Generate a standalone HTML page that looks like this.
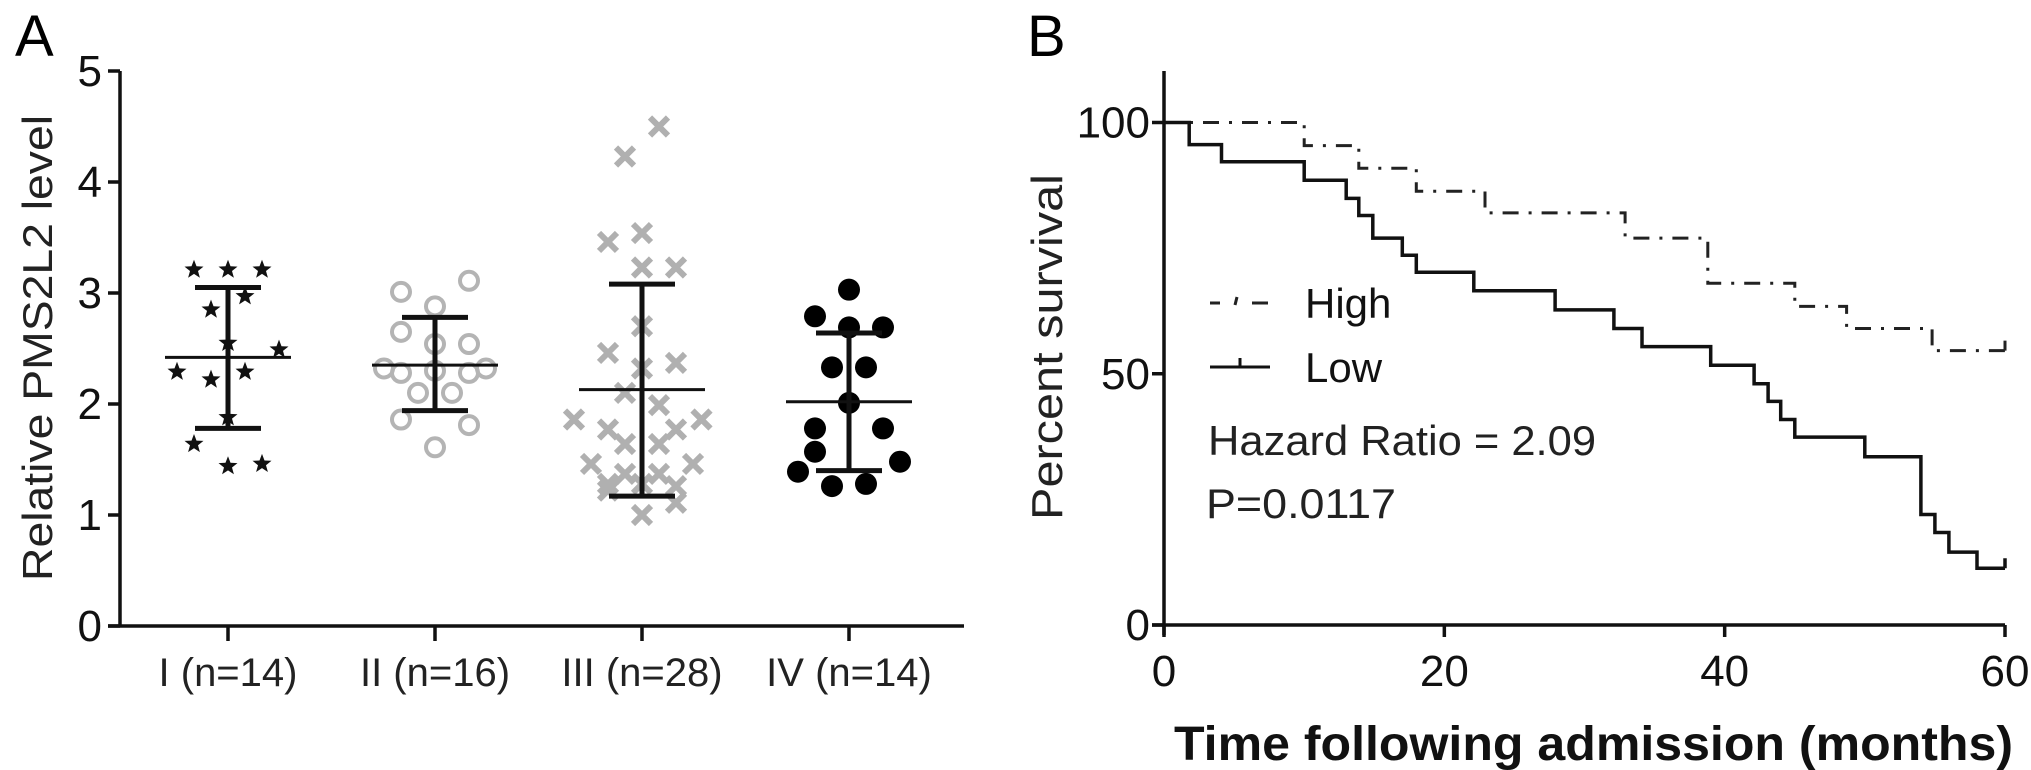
<!DOCTYPE html>
<html><head><meta charset="utf-8"><style>
html,body{margin:0;padding:0;background:#fff;}
svg{display:block;font-family:"Liberation Sans",sans-serif;}
</style></head><body>
<svg id="fig" width="2031" height="770" viewBox="0 0 2031 770" xmlns="http://www.w3.org/2000/svg">
<text x="15" y="56" font-size="58">A</text>
<text x="1027" y="56" font-size="58">B</text>
<g id="pa"></g>
<g id="pb"></g>
</svg>
<script>
// ---------- Panel A data ----------
const groupLabels = ["I (n=14)", "II (n=16)", "III (n=28)", "IV (n=14)"];
const g1Values = [3.21,3.21,3.21,2.85,2.97,2.55,2.49,2.29,2.22,2.29,1.88,1.64,1.44,1.46];
const g1Jitter = [-2,0,2,-1,1,0,3,-3,-1,1,0,-2,0,2];
const g2Values = [3.01,3.11,2.88,2.65,2.54,2.54,2.32,2.28,2.28,2.32,2.10,2.10,1.86,1.81,1.61,2.30];
const g2Jitter = [-2,2,0,-2,2,0,-3,-2,2,3,-1,1,-2,2,0,0];
const g3Values = [4.5,4.23,3.46,3.54,3.23,3.23,2.70,2.46,2.37,2.32,2.10,1.99,1.86,1.77,1.77,1.86,1.64,1.64,1.46,1.37,1.37,1.46,1.28,1.28,1.26,1.11,1.0,1.22];
const g3Jitter = [1,-1,-2,0,0,2,0,-2,2,0,-1,1,-4,-2,2,3.5,-1,1,-3,-1,1,3,-2,0,2,2,0,-2];
const g4Values = [3.03,2.79,2.69,2.69,2.33,2.33,2.01,1.78,1.78,1.57,1.39,1.48,1.26,1.28];
const g4Jitter = [0,-2,2,0,-1,1,0,-2,2,-2,-3,3,-1,1];
const groupMeans = [2.42,2.35,2.13,2.02];
const groupSDHigh = [3.05,2.78,3.08,2.64];
const groupSDLow = [1.78,1.94,1.17,1.40];
const yTicksA = [0,1,2,3,4,5];

// ---------- Panel B data ----------
const xTicksB = [0,20,40,60];
const yTicksB = [0,50,100];
const highTimes = [0,10,13.9,18,22.9,32.9,38.8,45,48.7,54.8,60];
const highSurv  = [100,95.4,90.9,86.3,82,77,68,63.4,59,54.6,54.6];
const lowTimes = [0,1.8,4.1,10,13,13.9,14.9,17,18,22.1,27.9,32.1,34.1,39,42.1,43.1,44,45,50,54,55,56,58,60];
const lowSurv  = [100,95.6,92.2,88.5,84.9,81.5,77,73.6,70.2,66.5,62.7,59,55.4,51.7,48,44.5,40.9,37.4,33.5,22,18.4,14.5,11.3,11.3];

const NS = "http://www.w3.org/2000/svg";
function mk(parent, tag, attrs, text){
  const e = document.createElementNS(NS, tag);
  for (const k in attrs) e.setAttribute(k, attrs[k]);
  if (text !== undefined) e.textContent = text;
  parent.appendChild(e);
  return e;
}

// ----- Panel A -----
const pa = document.getElementById('pa');
const ax0 = 120, ay0 = 626, ayTop = 71, axEnd = 964;
const yA = v => ay0 - (ay0 - ayTop) * v / 5;
const xA = i => 228 + i * 207;
const jitterPx = 17;

let el = mk(pa, 'line', {x1:ax0, y1:ayTop, x2:ax0, y2:ay0+1.5, stroke:'#111', 'stroke-width':3.5});


el = mk(pa, 'line', {x1:ax0-12, y1:ay0, x2:axEnd, y2:ay0, stroke:'#111', 'stroke-width':3.5});


yTicksA.forEach(t => {
  const y = yA(t);
  const tk = mk(pa, 'line', {x1:ax0-12, y1:y, x2:ax0, y2:y, stroke:'#111', 'stroke-width':3.5});
  
  
  const lb = mk(pa, 'text', {x:ax0-18, y:y+15, 'font-size':44, 'text-anchor':'end', fill:'#111'}, String(t));
  
  
});
el = mk(pa, 'text', {x:0, y:0, 'font-size':42, 'text-anchor':'middle', fill:'#222', transform:'translate(52,348) rotate(-90)', textLength:466, lengthAdjust:'spacingAndGlyphs'}, 'Relative PMS2L2 level');



groupLabels.forEach((g, i) => {
  const x = xA(i);
  const tk = mk(pa, 'line', {x1:x, y1:ay0, x2:x, y2:ay0+15, stroke:'#111', 'stroke-width':3.5});
  
  
  const lb = mk(pa, 'text', {x:x, y:686, 'font-size':40, 'text-anchor':'middle', fill:'#222'}, g);
  
  
});

function star(cx, cy, r){
  let d = '';
  for (let k = 0; k < 10; k++){
    const rr = k % 2 ? r * 0.42 : r;
    const a = -Math.PI/2 + k * Math.PI/5;
    d += (k ? 'L' : 'M') + (cx + rr*Math.cos(a)).toFixed(1) + ',' + (cy + rr*Math.sin(a)).toFixed(1);
  }
  return d + 'Z';
}
const groups = [[g1Values,g1Jitter],[g2Values,g2Jitter],[g3Values,g3Jitter],[g4Values,g4Jitter]];
groups.forEach((gd, gi) => {
  const vals = gd[0], jit = gd[1];
  const g = mk(pa, 'g', {});
  
  
  vals.forEach((v, k) => {
    const cx = xA(gi) + jit[k] * jitterPx, cy = yA(v);
    let m;
    if (gi === 0) m = mk(g, 'path', {d: star(cx, cy, 10), fill:'#111'});
    else if (gi === 1) m = mk(g, 'circle', {cx:cx, cy:cy, r:9, fill:'none', stroke:'#b4b4b4', 'stroke-width':4});
    else if (gi === 2) m = mk(g, 'path', {d:`M${cx-9},${cy-9}L${cx+9},${cy+9}M${cx+9},${cy-9}L${cx-9},${cy+9}`, stroke:'#b0b0b0', 'stroke-width':6});
    else m = mk(g, 'circle', {cx:cx, cy:cy, r:11, fill:'#000'});
    
    
  });
  const x = xA(gi);
  const mean = mk(pa, 'line', {x1:x-63, y1:yA(groupMeans[gi]), x2:x+63, y2:yA(groupMeans[gi]), stroke:'#111', 'stroke-width':3});
  
  
  const eb = mk(pa, 'path', {d:`M${x},${yA(groupSDHigh[gi])}V${yA(groupSDLow[gi])}M${x-33},${yA(groupSDHigh[gi])}H${x+33}M${x-33},${yA(groupSDLow[gi])}H${x+33}`, stroke:'#111', 'stroke-width':5, fill:'none'});
  
  
});

// ----- Panel B -----
const pb = document.getElementById('pb');
const bx0 = 1164, bx1 = 2005, by0 = 625, by100 = 122.5, byTop = 71;
const xB = t => bx0 + (bx1 - bx0) * t / 60;
const yB = s => by0 - (by0 - by100) * s / 100;

el = mk(pb, 'line', {x1:bx0, y1:byTop, x2:bx0, y2:by0+10, stroke:'#111', 'stroke-width':3.5});


el = mk(pb, 'line', {x1:bx0-12, y1:by0, x2:bx1, y2:by0, stroke:'#111', 'stroke-width':3.5});


yTicksB.forEach(t => {
  const y = yB(t);
  const tk = mk(pb, 'line', {x1:bx0-12, y1:y, x2:bx0, y2:y, stroke:'#111', 'stroke-width':3.5});
  
  
  const lb = mk(pb, 'text', {x:bx0-14, y:y+15, 'font-size':44, 'text-anchor':'end', fill:'#111'}, String(t));
  
  
});
xTicksB.forEach(t => {
  const x = xB(t);
  const tk = mk(pb, 'line', {x1:x, y1:by0, x2:x, y2:by0+12, stroke:'#111', 'stroke-width':3.5});
  
  
  const lb = mk(pb, 'text', {x:x, y:686, 'font-size':44, 'text-anchor':'middle', fill:'#111'}, String(t));
  
  
});
el = mk(pb, 'text', {x:0, y:0, 'font-size':44, 'text-anchor':'middle', fill:'#222', transform:'translate(1062,347) rotate(-90)', textLength:346, lengthAdjust:'spacingAndGlyphs'}, 'Percent survival');


el = mk(pb, 'text', {x:1174, y:760, 'font-size':48, 'font-weight':'bold', fill:'#111', textLength:839, lengthAdjust:'spacingAndGlyphs'}, 'Time following admission (months)');



function stepPath(ts, ss){
  let d = `M${xB(ts[0])},${yB(ss[0])}`;
  for (let i = 1; i < ts.length; i++){
    d += `H${xB(ts[i]).toFixed(1)}V${yB(ss[i]).toFixed(1)}`;
  }
  const last = ts.length - 1;
  d += `M${xB(ts[last])},${yB(ss[last])}v-10`;
  return d;
}
el = mk(pb, 'path', {d: stepPath(highTimes, highSurv), fill:'none', stroke:'#222', 'stroke-width':3, 'stroke-dasharray':'16,10,3,10'});


el = mk(pb, 'path', {d: stepPath(lowTimes, lowSurv), fill:'none', stroke:'#111', 'stroke-width':3.5});



// legend
el = mk(pb, 'path', {d:'M1210,303h10M1237,297l-2,8M1252,303h16', stroke:'#222', 'stroke-width':3, fill:'none'});


el = mk(pb, 'text', {x:1305, y:318, 'font-size':42, fill:'#111'}, 'High');


el = mk(pb, 'path', {d:'M1210,367h60M1240,367v-9', stroke:'#111', 'stroke-width':3, fill:'none'});


el = mk(pb, 'text', {x:1305, y:382, 'font-size':42, fill:'#111'}, 'Low');


el = mk(pb, 'text', {x:1208, y:455, 'font-size':42, fill:'#222', textLength:388, lengthAdjust:'spacingAndGlyphs'}, 'Hazard Ratio = 2.09');


el = mk(pb, 'text', {x:1206, y:518, 'font-size':42, fill:'#222', textLength:190, lengthAdjust:'spacingAndGlyphs'}, 'P=0.0117');


</script>
</body></html>
